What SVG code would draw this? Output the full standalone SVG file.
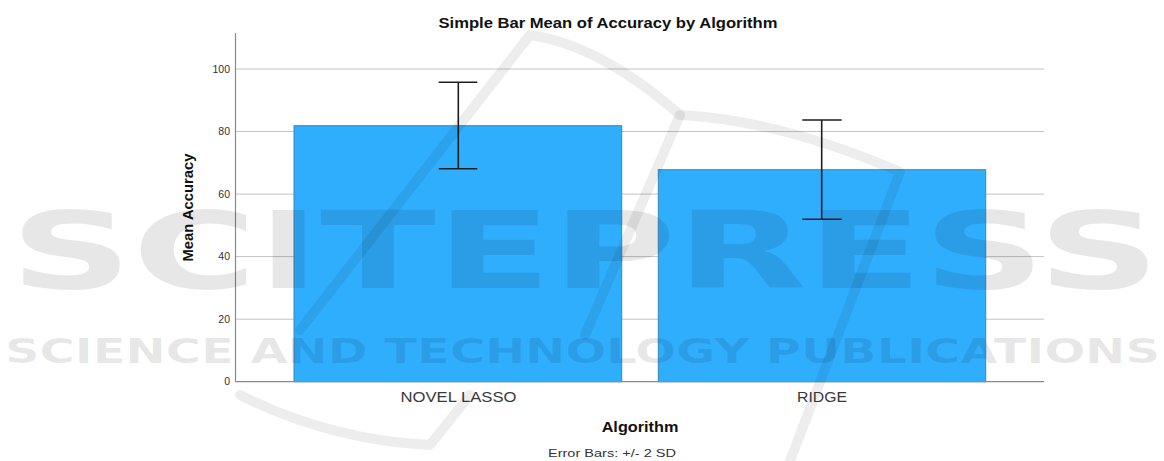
<svg xmlns="http://www.w3.org/2000/svg" width="1164" height="461" viewBox="0 0 1164 461">
  <style>
    .grid { stroke: #c4c4c4; stroke-width: 1; }
    .axis { stroke: #8a8a8a; stroke-width: 1.2; fill: none; }
    .bar { fill: #30aefe; stroke: #3a86ba; stroke-width: 1; }
    .err { stroke: #1e1e1e; stroke-width: 1.6; fill: none; }
    .tick { font-family: "Liberation Sans", Arial, sans-serif; font-size: 10.5px; fill: #333; text-anchor: end; }
    .cat { font-family: "Liberation Sans", Arial, sans-serif; font-size: 14.5px; fill: #3a3a3a; text-anchor: middle; }
    .title { font-family: "Liberation Sans", Arial, sans-serif; font-weight: bold; fill: #111; text-anchor: middle; }
    .note { font-family: "Liberation Sans", Arial, sans-serif; font-size: 11px; fill: #333; text-anchor: middle; }
    .wm { font-family: "DejaVu Sans", "Liberation Sans", sans-serif; font-weight: bold; fill: #000; fill-opacity: 0.095; }
    .wmline { stroke: #000; stroke-opacity: 0.07; stroke-width: 10; fill: none; stroke-linecap: round; stroke-linejoin: round; }
  </style>

  <rect width="1164" height="461" fill="#ffffff"/>

  <!-- chart title -->
  <text class="title" x="608" y="27.5" font-size="14" textLength="339" lengthAdjust="spacingAndGlyphs">Simple Bar Mean of Accuracy by Algorithm</text>

  <!-- horizontal gridlines -->
  <g id="gridlines">
    <line class="grid" x1="236" y1="69" x2="1044" y2="69"/>
    <line class="grid" x1="236" y1="131.5" x2="1044" y2="131.5"/>
    <line class="grid" x1="236" y1="194.1" x2="1044" y2="194.1"/>
    <line class="grid" x1="236" y1="256.6" x2="1044" y2="256.6"/>
    <line class="grid" x1="236" y1="319.2" x2="1044" y2="319.2"/>
  </g>

  <!-- y axis tick labels -->
  <g id="y-ticks">
    <text class="tick" x="230" y="72.7">100</text>
    <text class="tick" x="230" y="135.2">80</text>
    <text class="tick" x="230" y="197.8">60</text>
    <text class="tick" x="230" y="260.3">40</text>
    <text class="tick" x="230" y="322.9">20</text>
    <text class="tick" x="230" y="385.4">0</text>
  </g>

  <!-- y axis title -->
  <text class="title" font-size="14.8" transform="translate(193 207.5) rotate(-90)">Mean Accuracy</text>

  <!-- bars -->
  <g id="bar-novel-lasso">
    <rect class="bar" x="294" y="125.7" width="327.7" height="256"/>
    <path class="err" d="M458.3 82.3 V168.7 M438.7 82.3 H477.3 M438.7 168.7 H477.3"/>
    <text class="cat" x="458.5" y="401.7" textLength="116" lengthAdjust="spacingAndGlyphs">NOVEL LASSO</text>
  </g>
  <g id="bar-ridge">
    <rect class="bar" x="658.3" y="169.7" width="327.4" height="212"/>
    <path class="err" d="M821.7 120 V219.3 M802.3 120 H841.7 M802.3 219.3 H841.7"/>
    <text class="cat" x="822" y="401.7" textLength="50" lengthAdjust="spacingAndGlyphs">RIDGE</text>
  </g>

  <!-- axes -->
  <g id="axes">
    <line class="axis" x1="235.5" y1="33" x2="235.5" y2="381.7"/>
    <line class="axis" x1="235.5" y1="381.7" x2="1044" y2="381.7"/>
  </g>

  <!-- x axis title and footnote -->
  <text class="title" x="640" y="431.5" font-size="14.5" textLength="76.7" lengthAdjust="spacingAndGlyphs">Algorithm</text>
  <text class="note" x="612" y="457" textLength="128" lengthAdjust="spacingAndGlyphs">Error Bars: +/- 2 SD</text>

  <!-- publisher watermark -->
  <g id="watermark">
    <path class="wmline" d="M300 330 L530 35 Q600 45 680 115 Q780 120 900 172 L790 461"/>
    <path class="wmline" d="M680 115 L585 335"/>
    <path class="wmline" d="M240 395 Q330 440 430 445 L470 395"/>
    <text class="wm" x="10" y="288" font-size="107" textLength="1150" lengthAdjust="spacingAndGlyphs">SCITEPRESS</text>
    <text class="wm" x="5" y="363" font-size="33" textLength="1155" lengthAdjust="spacingAndGlyphs">SCIENCE AND TECHNOLOGY PUBLICATIONS</text>
  </g>
</svg>
